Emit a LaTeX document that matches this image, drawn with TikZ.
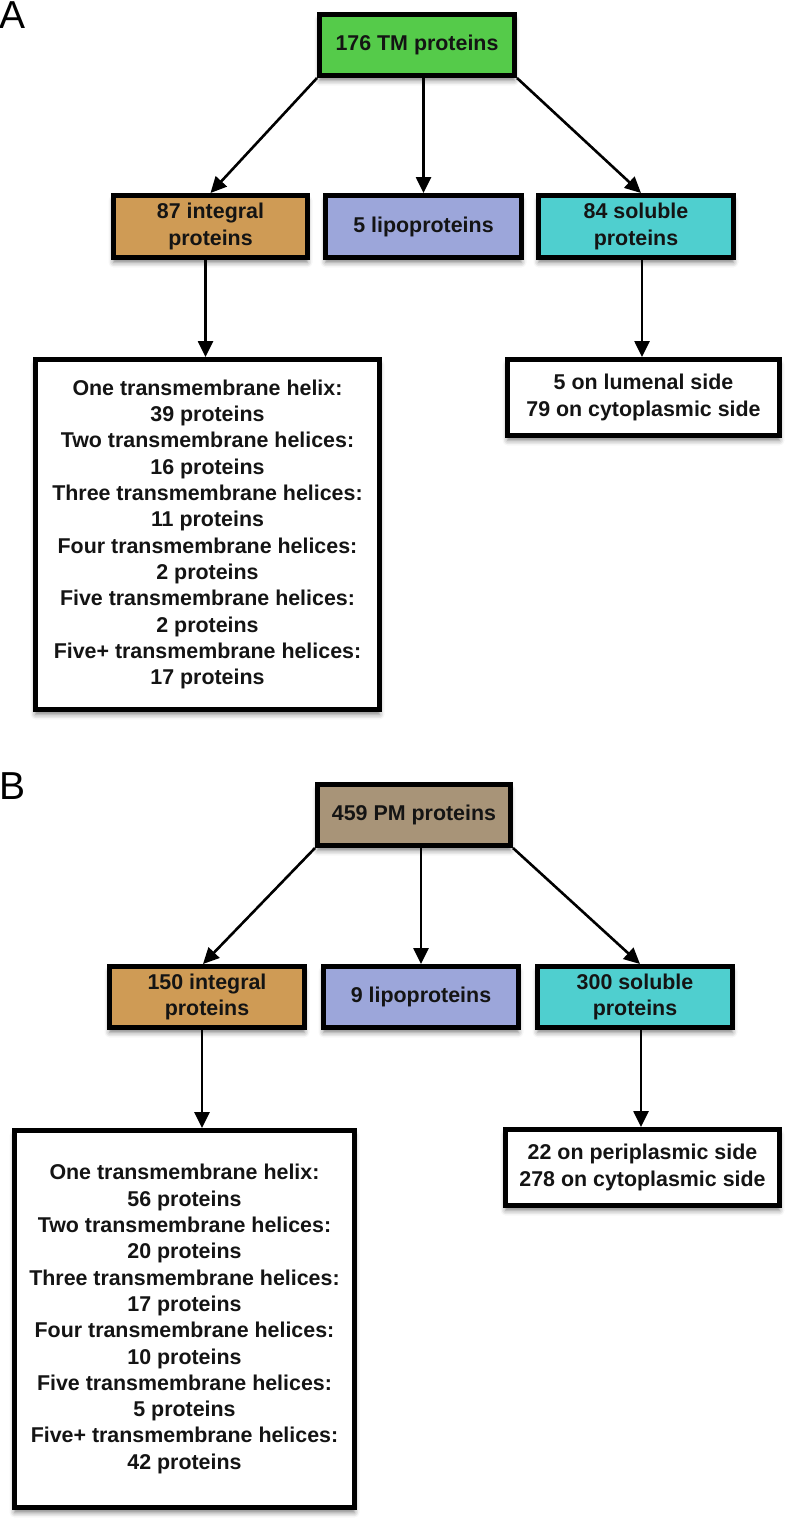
\documentclass[tikz,border=0pt]{standalone}
\usepackage{fontspec}
\setmainfont{Liberation Sans}
\usetikzlibrary{arrows.meta,shadows.blur}
\definecolor{cgreen}{HTML}{55CB4A}
\definecolor{ctan}{HTML}{CF9B55}
\definecolor{clav}{HTML}{9CA6DA}
\definecolor{cturq}{HTML}{4FCFCF}
\definecolor{cbrown}{HTML}{A89478}
\tikzset{
  box/.style={draw=black, line width=5pt, align=center, inner sep=0pt,
    font=\bfseries\fontsize{21.4}{26.3}\selectfont, text=black!92,
    blur shadow={shadow xshift=0pt, shadow yshift=-5pt, shadow blur radius=5pt, shadow opacity=50}},
  cbox/.style={box, minimum height=61pt},
  arr/.style={line width=2.6pt, -{Triangle[length=16pt,width=15pt]}},
  panel/.style={font=\fontsize{39}{39}\selectfont, inner sep=0pt}
}
\begin{document}
\begin{tikzpicture}[x=1pt,y=-1pt]
\useasboundingbox (0,0) rectangle (793,1524);
% ---------- Panel A ----------
\node[panel] (labA) at (13,15) {A};
\node[cbox, fill=cgreen, minimum width=195pt] (tmA) at (417,45) {176 TM proteins};
\node[cbox, fill=ctan, minimum width=194pt, minimum height=62pt] (intA) at (210.5,226.5) {87 integral\\proteins};
\node[cbox, fill=clav, minimum width=196pt, minimum height=62pt] (lipA) at (423.5,226.5) {5 lipoproteins};
\node[cbox, fill=cturq, minimum width=195pt, minimum height=62pt] (solA) at (636,226.5) {84 soluble\\proteins};
\node[box, fill=white, minimum width=344pt, minimum height=350pt] (bigA) at (207.5,534.5)
  {One transmembrane helix:\\39 proteins\\Two transmembrane helices:\\16 proteins\\Three transmembrane helices:\\11 proteins\\Four transmembrane helices:\\2 proteins\\Five transmembrane helices:\\2 proteins\\Five+ transmembrane helices:\\17 proteins};
\node[box, fill=white, minimum width=272pt, minimum height=76pt] (lumA) at (643.5,397.5)
  {5 on lumenal side\\79 on cytoplasmic side};
\draw[arr] (tmA.south west) -- (intA.north);
\draw[arr] (lipA.north |- tmA.south) -- (lipA.north);
\draw[arr] (tmA.south east) -- ([xshift=5pt]solA.north);
\draw[arr] ([xshift=-5pt]intA.south) -- ([xshift=-5pt]intA.south |- bigA.north);
\draw[arr] ([xshift=6pt]solA.south) -- ([xshift=6pt]solA.south |- lumA.north);
% ---------- Panel B ----------
\node[panel] (labB) at (13,786) {B};
\node[cbox, fill=cbrown, minimum width=193pt] (tmB) at (414,815) {459 PM proteins};
\node[cbox, fill=ctan, minimum width=195pt] (intB) at (207,997) {150 integral\\proteins};
\node[cbox, fill=clav, minimum width=195pt] (lipB) at (421,997) {9 lipoproteins};
\node[cbox, fill=cturq, minimum width=195pt] (solB) at (635,997) {300 soluble\\proteins};
\node[box, fill=white, minimum width=340pt, minimum height=377pt] (bigB) at (184.5,1319)
  {One transmembrane helix:\\56 proteins\\Two transmembrane helices:\\20 proteins\\Three transmembrane helices:\\17 proteins\\Four transmembrane helices:\\10 proteins\\Five transmembrane helices:\\5 proteins\\Five+ transmembrane helices:\\42 proteins};
\node[box, fill=white, minimum width=274pt, minimum height=76pt] (perB) at (642.5,1167.5)
  {22 on periplasmic side\\278 on cytoplasmic side};
\draw[arr] (tmB.south west) -- ([xshift=-4pt]intB.north);
\draw[arr] (lipB.north |- tmB.south) -- (lipB.north);
\draw[arr] (tmB.south east) -- ([xshift=5pt]solB.north);
\draw[arr] ([xshift=-5pt]intB.south) -- ([xshift=-5pt]intB.south |- bigB.north);
\draw[arr] ([xshift=6pt]solB.south) -- ([xshift=6pt]solB.south |- perB.north);
\end{tikzpicture}
\end{document}
